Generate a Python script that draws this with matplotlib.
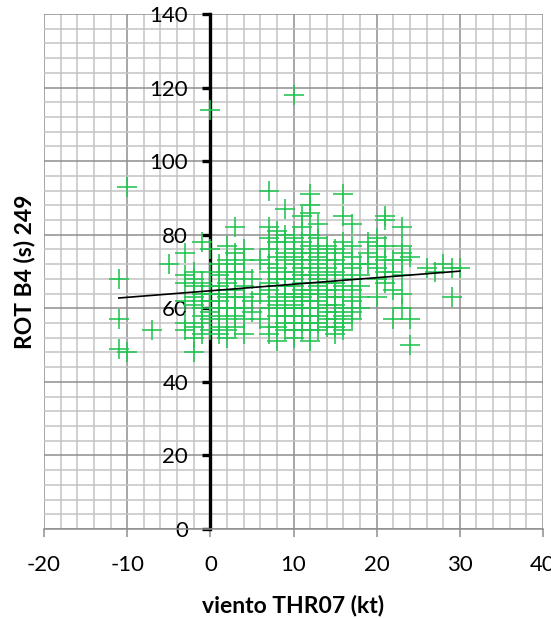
import matplotlib
matplotlib.use("Agg")
import matplotlib.pyplot as plt
from matplotlib.ticker import MultipleLocator

plt.rcParams['font.family'] = ['Lato', 'DejaVu Sans']

# ---- data ----
wind_kt = [
    -11, -11, -11, -10, -10, -7, -5,
    -3, -3, -3, -3, -3, -3,
    -2, -2, -2, -2, -2, -2, -2, -2,
    -1, -1, -1, -1, -1, -1, -1, -1,
    0, 0, 0, 0, 0, 0, 0, 0, 0,
    1, 1, 1, 1, 1, 1, 1, 1, 1,
    2, 2, 2, 2, 2, 2, 2, 2, 2, 2,
    3, 3, 3, 3, 3, 3, 3, 3, 3, 3,
    4, 4, 4, 4, 4, 4, 4, 4,
    5, 5, 5, 6, 6, 6,
    7, 7, 7, 7, 7, 7, 7, 7, 7, 7, 7, 7,
    8, 8, 8, 8, 8, 8, 8, 8, 8, 8, 8,
    9, 9, 9, 9, 9, 9, 9, 9, 9, 9, 9, 9, 9, 9,
    10, 10, 10, 10, 10, 10, 10, 10, 10, 10, 10, 10, 10, 10, 10, 10,
    11, 11, 11, 11, 11, 11, 11, 11, 11, 11, 11, 11, 11, 11, 11,
    12, 12, 12, 12, 12, 12, 12, 12, 12, 12, 12, 12, 12, 12, 12, 12, 12, 12,
    13, 13, 13, 13, 13, 13, 13, 13, 13, 13, 13, 13, 13, 13,
    14, 14, 14, 14, 14, 14, 14, 14, 14, 14, 14, 14,
    15, 15, 15, 15, 15, 15, 15, 15, 15, 15, 15,
    16, 16, 16, 16, 16, 16, 16, 16, 16, 16, 16, 16,
    17, 17, 17, 17, 17, 17, 17, 17, 17,
    18, 18, 18, 18, 18, 19, 19, 19,
    20, 20, 20, 20, 20, 20, 21, 21, 21, 21, 21, 21,
    22, 22, 22, 22, 23, 23, 23, 23, 23, 23, 23, 24, 24, 24,
    26, 27, 28, 29, 29, 30,
]
rot_s = [
    68, 57, 49, 93, 48, 54, 72,
    75, 69, 67, 62, 56, 54,
    70, 68, 66, 63, 61, 55, 52, 48,
    78, 67, 64, 62, 60, 58, 56, 53,
    114, 76, 70, 66, 64, 62, 59, 57, 54,
    72, 69, 66, 64, 62, 60, 58, 55, 53,
    77, 73, 70, 67, 65, 63, 60, 57, 54, 52,
    82, 75, 72, 70, 68, 65, 63, 60, 58, 55,
    76, 73, 70, 66, 63, 60, 57, 53,
    68, 62, 59, 73, 64, 57,
    92, 82, 79, 76, 72, 70, 67, 65, 62, 60, 55, 53,
    81, 78, 74, 71, 68, 66, 63, 61, 58, 55, 51,
    87, 80, 78, 75, 73, 70, 68, 66, 64, 62, 60, 58, 56, 54,
    118, 79, 76, 74, 72, 70, 68, 66, 64, 63, 61, 60, 58, 56, 54, 52,
    85, 82, 78, 75, 73, 71, 69, 67, 65, 63, 62, 60, 58, 56, 54,
    91, 88, 86, 80, 77, 75, 73, 71, 69, 67, 65, 64, 62, 60, 58, 56, 54, 51,
    83, 79, 76, 74, 72, 70, 68, 66, 64, 62, 60, 58, 56, 54,
    77, 75, 73, 71, 69, 67, 65, 63, 61, 59, 57, 55,
    76, 73, 70, 67, 65, 63, 61, 59, 57, 55, 53,
    91, 85, 78, 75, 72, 69, 66, 63, 60, 58, 56, 54,
    83, 77, 74, 71, 68, 65, 62, 59, 57,
    72, 69, 66, 63, 60, 78, 75, 72,
    79, 77, 74, 71, 68, 63, 85, 84, 77, 73, 70, 67,
    73, 70, 65, 57, 82, 77, 75, 73, 69, 64, 60, 74, 57, 50,
    71, 70, 72, 71, 63, 71,
]

# linear trend line (end points)
trend_x = [-11, 30]
trend_y = [62.8, 70.1]

x_ticks = [-20, -10, 0, 10, 20, 30, 40]
y_ticks = [0, 20, 40, 60, 80, 100, 120, 140]
x_label = "viento THR07 (kt)"
y_label = "ROT B4 (s) 249"

# ---- figure ----
W, H = 551, 619
fig = plt.figure(figsize=(W / 100, H / 100), dpi=100)
ax = fig.add_axes([44 / W, 1 - 529 / H, (543 - 44) / W, (529 - 14) / H])

ax.set_xlim(-20, 40)
ax.set_ylim(0, 140)
ax.set_xticks(x_ticks)
ax.set_yticks(y_ticks)
ax.xaxis.set_minor_locator(MultipleLocator(2))
ax.yaxis.set_minor_locator(MultipleLocator(4))

ax.grid(which='minor', color='#c3c3c3', linewidth=1.1, zorder=0)
ax.grid(which='major', color='#8e8e8e', linewidth=1.1, zorder=0)
ax.set_axisbelow(True)

for s in ['top', 'right']:
    ax.spines[s].set_visible(False)
ax.spines['left'].set_position(('data', 0))
ax.spines['left'].set_color('black')
ax.spines['left'].set_linewidth(2.4)
ax.spines['bottom'].set_color('#8e8e8e')
ax.spines['bottom'].set_linewidth(1.1)

ax.tick_params(axis='y', which='major', direction='out', length=6, width=2.4,
               color='black', labelsize=16, pad=10, labelcolor='black')
ax.tick_params(axis='x', which='major', direction='out', length=5.5, width=1.1,
               color='#8e8e8e', labelsize=16, pad=13, labelcolor='black')
ax.tick_params(which='minor', length=0)
ax.set_yticklabels([str(v) for v in y_ticks])
ax.set_xticklabels([str(v) for v in x_ticks])

ax.scatter(wind_kt, rot_s, marker='+', s=200, linewidths=1.15,
           color='#22c451', zorder=3, clip_on=False)
ax.plot(trend_x, trend_y, color='black', linewidth=1.2, zorder=4)

fig.text(293.5 / W, 1 - 605 / H, x_label, ha='center', va='center',
         fontsize=16.5, fontweight='bold')
fig.text(25 / W, 1 - 272 / H, y_label, ha='center', va='center',
         rotation=90, fontsize=16.5, fontweight='bold')

fig.savefig('out.png', dpi=100)
